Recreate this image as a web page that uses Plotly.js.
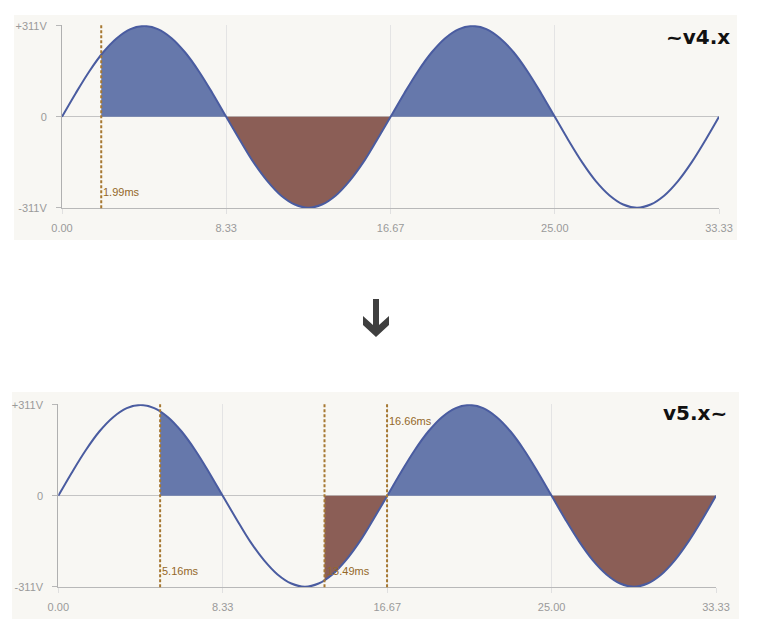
<!DOCTYPE html>
<html>
<head>
<meta charset="utf-8">
<script src="https://cdn.plot.ly/plotly-3.0.1.min.js"></script>
<style>
  html, body { margin: 0; padding: 0; background: #ffffff; }
  #chart { width: 760px; height: 627px; }
</style>
</head>
<body>
<div id="chart"></div>
<script>
// ---- data (60 Hz mains, 311 V peak, samples every 15 degrees) ----
const timesMs = [0, 0.69, 1.39, 2.08, 2.78, 3.47, 4.17, 4.86, 5.56, 6.25, 6.94, 7.64,
  8.33, 9.03, 9.72, 10.42, 11.11, 11.81, 12.50, 13.19, 13.89, 14.58, 15.28, 15.97,
  16.67, 17.36, 18.06, 18.75, 19.44, 20.14, 20.83, 21.53, 22.22, 22.92, 23.61, 24.31,
  25.00, 25.69, 26.39, 27.08, 27.78, 28.47, 29.17, 29.86, 30.56, 31.25, 31.94, 32.64, 33.33];
const voltsV = [0, 80, 156, 220, 269, 300, 311, 300, 269, 220, 156, 80,
  0, -80, -156, -220, -269, -300, -311, -300, -269, -220, -156, -80,
  0, 80, 156, 220, 269, 300, 311, 300, 269, 220, 156, 80,
  0, -80, -156, -220, -269, -300, -311, -300, -269, -220, -156, -80, 0];

const xTickVals = [0, 8.33, 16.67, 25.00, 33.33];
const xTickText = ['0.00', '8.33', '16.67', '25.00', '33.33'];
const yTickVals = [-311, 0, 311];
const yTickText = ['-311V', '0', '+311V'];

// ~v4.x chart
const v4Title = '~v4.x';
const v4TriggerMs = [1.99];
const v4TriggerVolts = [212];
const v4TriggerLabels = ['1.99ms'];
const v4FillStartMs = [1.99, 8.33, 16.67];
const v4FillEndMs = [8.33, 16.67, 25.00];

// v5.x~ chart
const v5Title = 'v5.x~';
const v5TriggerMs = [5.16, 13.49, 16.66];
const v5TriggerVolts = [289, -290, 0];
const v5TriggerLabels = ['5.16ms', '13.49ms', '16.66ms'];
const v5FillStartMs = [5.16, 13.49, 16.67, 25.00];
const v5FillEndMs = [8.33, 16.67, 25.00, 33.33];

// ---- styling ----
const W = 760, H = 627;
const px = v => v / W;
const py = v => 1 - v / H;
const LINE = '#4a5ca0';
const BLUE = '#6678ab';
const BROWN = '#8b5e56';
const DASH = '#a67832';
const LABEL = '#946828';
const PANEL = '#f8f7f3';
const FONT = 'Liberation Sans, Arial, sans-serif';

function voltAt(t, trigT, trigV) {
  for (let i = 0; i < trigT.length; i++) if (Math.abs(trigT[i] - t) < 0.005) return trigV[i];
  for (let i = 0; i < timesMs.length; i++) if (Math.abs(timesMs[i] - t) < 0.011) return voltsV[i];
  return 0;
}

function fillTraces(starts, ends, trigT, trigV, xa, ya) {
  const out = [];
  for (let s = 0; s < starts.length; s++) {
    const t0 = starts[s], t1 = ends[s];
    const xs = [t0], ys = [voltAt(t0, trigT, trigV)];
    for (let i = 0; i < timesMs.length; i++) {
      if (timesMs[i] > t0 + 0.02 && timesMs[i] < t1 - 0.02) { xs.push(timesMs[i]); ys.push(voltsV[i]); }
    }
    xs.push(t1); ys.push(voltAt(t1, trigT, trigV));
    const sum = ys.reduce((a, b) => a + b, 0);
    out.push({
      type: 'scatter', mode: 'lines', x: xs, y: ys, xaxis: xa, yaxis: ya,
      fill: 'tozeroy', fillcolor: sum >= 0 ? BLUE : BROWN,
      line: { width: 0, shape: 'spline', color: sum >= 0 ? BLUE : BROWN },
      hoverinfo: 'skip'
    });
  }
  return out;
}

const data = [
  ...fillTraces(v4FillStartMs, v4FillEndMs, v4TriggerMs, v4TriggerVolts, 'x', 'y'),
  { type: 'scatter', mode: 'lines', x: timesMs, y: voltsV, xaxis: 'x', yaxis: 'y',
    line: { color: LINE, width: 2, shape: 'spline' }, hoverinfo: 'skip' },
  ...fillTraces(v5FillStartMs, v5FillEndMs, v5TriggerMs, v5TriggerVolts, 'x2', 'y2'),
  { type: 'scatter', mode: 'lines', x: timesMs, y: voltsV, xaxis: 'x2', yaxis: 'y2',
    line: { color: LINE, width: 2, shape: 'spline' }, hoverinfo: 'skip' }
];

function xAxis(domain, anchor) {
  return {
    domain: domain, anchor: anchor, range: [0, 33.33],
    tickmode: 'array', tickvals: xTickVals, ticktext: xTickText,
    showgrid: true, gridcolor: '#e4e4e4', gridwidth: 1,
    zeroline: false, showline: true, linecolor: '#b8b8b8', linewidth: 1,
    ticks: 'outside', ticklen: 5, tickcolor: '#e0e0e0', ticklabelstandoff: 4,
    tickfont: { family: FONT, size: 11, color: '#9a9a9a' }, fixedrange: true
  };
}
function yAxis(domain, anchor) {
  return {
    domain: domain, anchor: anchor, range: [-313, 313],
    tickmode: 'array', tickvals: yTickVals, ticktext: yTickText,
    showgrid: true, gridcolor: '#e4e4e4', gridwidth: 1,
    zeroline: true, zerolinecolor: '#c4c4c4', zerolinewidth: 1,
    showline: true, linecolor: '#b0b0b0', linewidth: 1,
    ticks: 'outside', ticklen: 5, tickcolor: '#b8b8b8', ticklabelstandoff: 7,
    tickfont: { family: FONT, size: 11, color: '#9a9a9a' }, fixedrange: true
  };
}

const shapes = [
  { type: 'rect', xref: 'paper', yref: 'paper', x0: px(14), x1: px(737), y0: py(240), y1: py(15),
    fillcolor: PANEL, line: { width: 0 }, layer: 'below' },
  { type: 'rect', xref: 'paper', yref: 'paper', x0: px(12), x1: px(739), y0: py(619), y1: py(392),
    fillcolor: PANEL, line: { width: 0 }, layer: 'below' }
];
const annotations = [];

function addTriggers(trigT, labels, xr, yr, labelPos) {
  trigT.forEach((t, i) => {
    shapes.push({ type: 'line', xref: xr, yref: yr + ' domain', x0: t, x1: t, y0: 0, y1: 1,
      line: { color: DASH, width: 2, dash: '3px,2px' } });
    annotations.push({ xref: xr, yref: yr + ' domain', x: t, y: labelPos[i] === 'top' ? 0.909 : 0.088,
      xanchor: 'left', yanchor: 'middle', xshift: 1, showarrow: false, borderpad: 0,
      text: labels[i], font: { family: FONT, size: 11, color: LABEL } });
  });
}
addTriggers(v4TriggerMs, v4TriggerLabels, 'x', 'y', ['bottom']);
addTriggers(v5TriggerMs, v5TriggerLabels, 'x2', 'y2', ['bottom', 'bottom', 'top']);

annotations.push({ xref: 'paper', yref: 'paper', x: px(732), y: py(37), xanchor: 'right', yanchor: 'middle',
  showarrow: false, text: '<b>' + v4Title + '</b>', font: { family: 'DejaVu Sans, sans-serif', size: 20, color: '#111' } });
annotations.push({ xref: 'paper', yref: 'paper', x: px(729), y: py(413), xanchor: 'right', yanchor: 'middle',
  showarrow: false, text: '<b>' + v5Title + '</b>', font: { family: 'DejaVu Sans, sans-serif', size: 20, color: '#111' } });

// down arrow between the two charts
const arrowPts = [[373, 299], [379, 299], [379, 325], [389, 316], [389, 325], [376, 337], [363, 325], [363, 316], [373, 325]];
shapes.push({ type: 'path', xref: 'paper', yref: 'paper',
  path: 'M' + arrowPts.map(p => px(p[0]).toFixed(5) + ',' + py(p[1]).toFixed(5)).join(' L') + ' Z',
  fillcolor: '#3f3f3f', line: { width: 0 } });

const layout = {
  width: W, height: H, margin: { l: 0, r: 0, t: 0, b: 0 },
  paper_bgcolor: '#ffffff', plot_bgcolor: 'rgba(0,0,0,0)',
  showlegend: false, hovermode: false,
  xaxis: xAxis([px(62), px(719)], 'y'),
  yaxis: yAxis([py(208.3), py(25.3)], 'x'),
  xaxis2: xAxis([px(58.3), px(716)], 'y2'),
  yaxis2: yAxis([py(587.3), py(404.3)], 'x2'),
  shapes: shapes, annotations: annotations
};

Plotly.newPlot('chart', data, layout, { staticPlot: true, displayModeBar: false });
</script>
</body>
</html>
